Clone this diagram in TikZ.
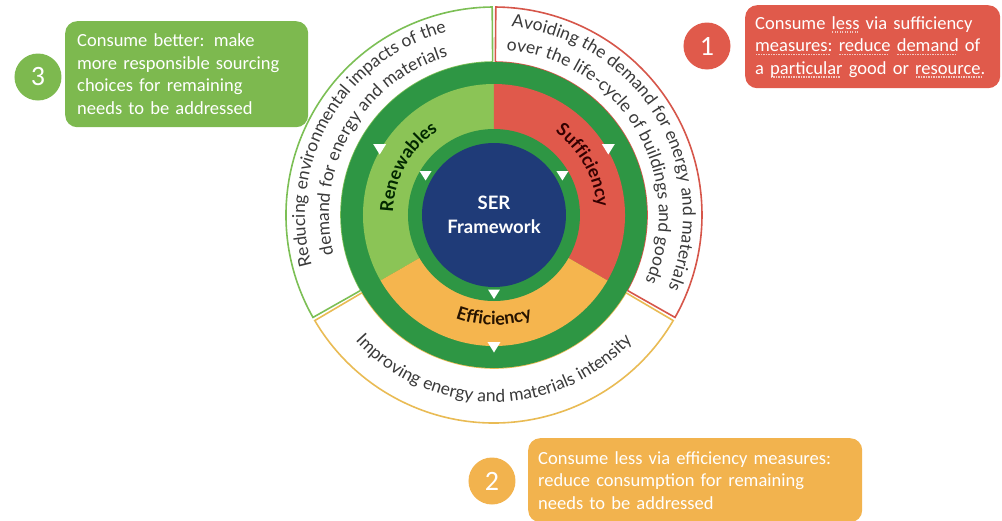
\documentclass[tikz,border=0pt]{standalone}
\usepackage{fontspec}
\setmainfont{Carlito}
\newfontfamily\wheelfont{Lato}
\usetikzlibrary{decorations.text}

\definecolor{ringgreen}{HTML}{2E9644}
\definecolor{renewgreen}{HTML}{8BC456}
\definecolor{sufred}{HTML}{E0594B}
\definecolor{effyellow}{HTML}{F5B54E}
\definecolor{corenavy}{HTML}{1F3B78}
\definecolor{boxgreen}{HTML}{7DB94F}
\definecolor{boxred}{HTML}{E05A4B}
\definecolor{boxyellow}{HTML}{F2B34E}
\definecolor{edgegreen}{HTML}{7CBF55}
\definecolor{edgered}{HTML}{D6564A}
\definecolor{edgeyellow}{HTML}{E9BB54}
\definecolor{ringink}{HTML}{3A3A3A}
\definecolor{marktint}{HTML}{F2C9C3}

\newcommand\ringfont{\wheelfont\fontsize{17.5}{20}\selectfont}
\newcommand\sectorfont{\wheelfont\bfseries\fontsize{18}{20}\selectfont}
\newcommand\boxfont{\fontsize{18.5}{22.5}\selectfont}
\newcommand\badgefont{\fontsize{28}{30}\selectfont}
% dotted spell-check marks under some words
\newsavebox\markbox
\newcommand\spellmark[1]{\leavevmode\sbox\markbox{#1}%
    \rlap{\raisebox{-3.5pt}[0pt][0pt]{\color{marktint}%
        \hbox to \wd\markbox{\leaders\hbox to 2.5pt{\hss\rule{1.2pt}{1.2pt}\hss}\hfill}}}%
    \usebox\markbox}

\begin{document}
\begin{tikzpicture}[x=1pt, y=1pt,
    ringline/.style={decorate, decoration={text along path, text align=center,
        text color=ringink, text={|\ringfont|#1}}},
    sectorline/.style 2 args={decorate, decoration={text along path, text align=center,
        text color=#1, text={|\sectorfont|#2}}},
    callout/.style={rectangle, rounded corners=12pt, anchor=north west, text=white,
        font=\boxfont, align=left, inner xsep=10pt, inner ysep=0pt},
    badge/.style={circle, minimum size=47pt, inner sep=0pt, text=white, font=\badgefont}]
    \useasboundingbox (-494,-305) rectangle (508,215);
    \clip (-494,-305) rectangle (508,215);

    % outer white ring, one outlined sector per strategy
    \foreach \from/\to/\col in {90.5/209.5/edgegreen, -29.5/89.5/edgered, 210.5/329.5/edgeyellow}
        \draw[\col, line width=1.6pt, fill=white] (\from:153) arc (\from:\to:153)
            -- (\to:208) arc (\to:\from:208) -- cycle;

    % green band and the three coloured sectors
    \fill[ringgreen] (0,0) circle (153);
    \foreach \from/\to/\col in {90/210/renewgreen, -30/90/sufred, 210/330/effyellow}
        \fill[\col] (0,0) -- (\from:131) arc (\from:\to:131) -- cycle;
    \fill[ringgreen] (0,0) circle (86);

    \node[circle, fill=corenavy, minimum size=144pt, inner sep=0pt, text=white,
        font=\wheelfont\bfseries\fontsize{18.5}{24}\selectfont, align=center] (core) at (0,0) {SER\\Framework};

    % small white markers
    \foreach \a in {30,150,270} {
        \fill[white, shift={(\a:132)}] (-6.5,5) -- (6.5,5) -- (0,-5.5) -- cycle;
        \fill[white, shift={(\a:79)}] (-6,4.5) -- (6,4.5) -- (0,-5) -- cycle;
    }

    % sector names
    \path[sectorline={black!85!green}{Renewables}] (205:101) arc (205:97:101);
    \path[sectorline={black!80!red}{Sufficiency}] (83:103) arc (83:-25:103);
    \path[sectorline={black!85!orange}{Efficiency}] (215:110) arc (215:325:110);

    % ring texts
    \path[ringline={Reducing environmental impacts of the}] (210:189) arc (210:90:189);
    \path[ringline={demand for energy and materials}] (210:165) arc (210:90:165);
    \path[ringline={Avoiding the demand for energy and materials}] (91:189) arc (91:-29:189);
    \path[ringline={over the life-cycle of buildings and goods}] (91:165) arc (91:-29:165);
    \path[ringline={Improving energy and materials intensity}] (210:187) arc (210:330:187);

    % callouts
    \node[callout, fill=boxgreen, minimum width=243pt, minimum height=106pt, text width=219pt]
        (better) at (-429,194) {Consume better: make\\more responsible sourcing\\choices for remaining\\needs to be addressed};
    \node[badge, fill=boxgreen] (three) at (-456,138) {3};

    \node[callout, fill=boxred, minimum width=255pt, minimum height=83pt, text width=235pt]
        (less) at (251,210) {Consume \spellmark{less} via sufficiency\\\spellmark{measures:} \spellmark{reduce} \spellmark{demand} of\\a \spellmark{particular} good or \spellmark{resource.}};
    \node[badge, fill=boxred] (one) at (213,169) {1};

    \node[callout, fill=boxyellow, minimum width=334pt, minimum height=84pt, text width=314pt]
        (efficient) at (34,-223) {Consume less via efficiency measures:\\reduce consumption for remaining\\needs to be addressed};
    \node[badge, fill=boxyellow] (two) at (-2,-266) {2};
\end{tikzpicture}
\end{document}
